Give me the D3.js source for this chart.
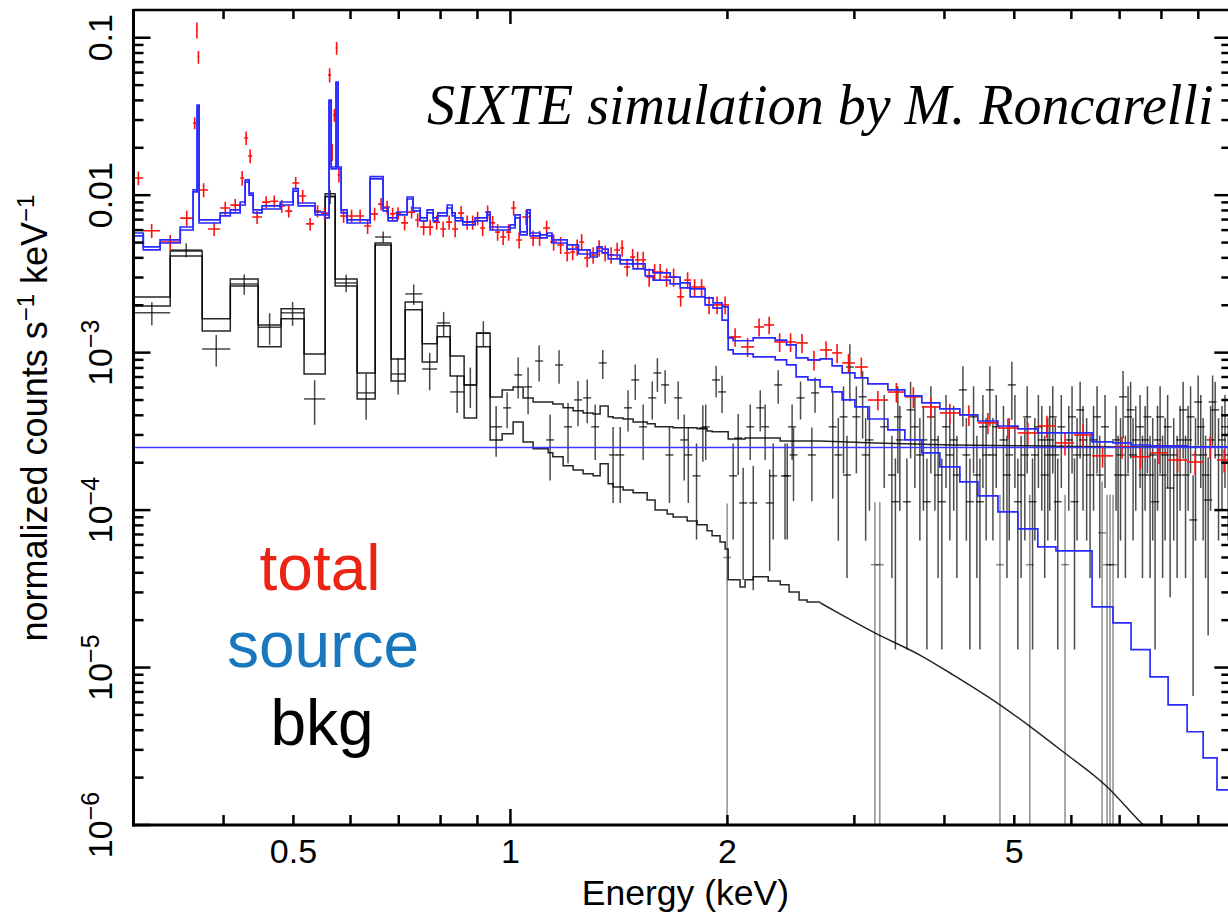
<!DOCTYPE html>
<html><head><meta charset="utf-8">
<script src="https://cdn.jsdelivr.net/npm/d3@7"></script>
<style>body{margin:0;background:#fff;} svg{display:block;}</style>
</head><body><svg id="c" width="1228" height="915"></svg>
<script>
// ---------- DATA ----------
// model binning of the "total" spectrum (keV bin edges)
const modelEdges = [0.300,0.3095,0.3266,0.3483,0.3630,0.3677,0.3700,0.3957,0.4087,0.4218,0.4286,0.4341,0.4397,0.4523,0.4793,0.4995,0.5076,0.5358,0.5534,0.5604,0.5641,0.5731,0.5768,0.5824,0.5935,0.6388,0.6659,0.6767,0.6965,0.7191,0.7329,0.7496,0.7664,0.7813,0.7931,0.8172,0.8301,0.8381,0.8589,0.8934,0.9283,0.9372,0.999,1.015,1.0315,1.0548,1.0649,1.0992,1.1244,1.1418,1.1985,1.2427,1.2900,1.3192,1.3404,1.3664,1.4196,1.4797,1.5378,1.5776,1.6655,1.7195,1.7753,1.8622,1.9103,1.9660,2.0047,2.0370,2.1715,2.3297,2.4156,2.4904,2.5860,2.6887,2.794,2.885,3.005,3.132,3.339,3.525,3.722,3.942,4.202,4.451,4.745,5.057,5.390,5.712,6.052,6.410,6.854,7.260,7.715,8.172,8.684,9.140,9.554,10.0];
// total model (source + particle background)
const totalModel = [5.75e-3,4.69e-3,5.20e-3,6.28e-3,1.08e-2,3.74e-2,6.96e-3,7.71e-3,8.06e-3,9.05e-3,1.25e-2,1.03e-2,8.06e-3,8.54e-3,9.05e-3,1.10e-2,8.92e-3,7.82e-3,7.49e-3,4.02e-2,1.51e-2,5.23e-2,1.51e-2,8.06e-3,6.96e-3,1.31e-2,8.29e-3,7.17e-3,7.82e-3,9.74e-3,8.29e-3,7.17e-3,8.06e-3,7.17e-3,7.71e-3,8.66e-3,7.71e-3,7.17e-3,6.76e-3,7.17e-3,7.82e-3,6.28e-3,6.47e-3,7.49e-3,5.84e-3,8.06e-3,5.75e-3,5.59e-3,5.75e-3,5.20e-3,4.83e-3,4.49e-3,4.30e-3,4.69e-3,4.55e-3,4.17e-3,3.88e-3,3.66e-3,3.35e-3,3.21e-3,3.02e-3,2.77e-3,2.54e-3,2.23e-3,2.07e-3,1.95e-3,1.24e-3,1.19e-3,1.24e-3,1.20e-3,1.12e-3,9.25e-4,8.99e-4,9.12e-4,8.23e-4,7.43e-4,6.91e-4,6.33e-4,5.80e-4,5.31e-4,4.79e-4,4.39e-4,4.02e-4,3.68e-4,3.42e-4,3.28e-4,3.09e-4,3.09e-4,3.09e-4,2.71e-4,2.67e-4,2.59e-4,2.56e-4,2.56e-4,2.52e-4,2.52e-4,2.52e-4];
// source model
const sourceModel = [5.51e-3,4.49e-3,4.97e-3,6.01e-3,1.05e-2,3.68e-2,6.66e-3,7.38e-3,7.71e-3,8.66e-3,1.21e-2,1.00e-2,7.71e-3,8.17e-3,8.66e-3,1.06e-2,8.54e-3,7.49e-3,7.17e-3,3.96e-2,1.47e-2,5.16e-2,1.47e-2,7.71e-3,6.66e-3,1.27e-2,7.94e-3,6.86e-3,7.49e-3,9.46e-3,7.94e-3,6.86e-3,7.71e-3,6.86e-3,7.38e-3,8.29e-3,7.38e-3,6.86e-3,6.47e-3,6.86e-3,7.49e-3,6.01e-3,6.19e-3,7.17e-3,5.59e-3,7.71e-3,5.51e-3,5.35e-3,5.51e-3,4.97e-3,4.55e-3,4.23e-3,4.05e-3,4.42e-3,4.30e-3,3.94e-3,3.66e-3,3.40e-3,3.07e-3,2.89e-3,2.73e-3,2.58e-3,2.26e-3,2.01e-3,1.92e-3,1.61e-3,1.04e-3,9.81e-4,9.39e-4,8.99e-4,8.35e-4,7.01e-4,6.71e-4,6.06e-4,5.63e-4,5.01e-4,4.52e-4,3.79e-4,3.23e-4,2.79e-4,2.31e-4,1.88e-4,1.51e-4,1.23e-4,9.74e-5,7.60e-5,5.84e-5,5.51e-5,5.51e-5,2.43e-5,1.92e-5,1.30e-5,8.73e-6,5.80e-6,3.91e-6,2.67e-6,1.67e-6];
// flat particle background component
const particleLevel = [2.5e-4];

// total spectrum data (bin edges, counts, 1-sigma)
const totalEdges = [0.300,0.3095,0.3266,0.3483,0.3630,0.3665,0.3683,0.3700,0.3807,0.3957,0.4087,0.4218,0.4272,0.4327,0.4383,0.4523,0.4643,0.4763,0.4871,0.4981,0.5093,0.5208,0.5341,0.5461,0.5585,0.5641,0.5676,0.5722,0.5758,0.5805,0.5935,0.6108,0.6267,0.6408,0.6553,0.6680,0.6809,0.6919,0.7053,0.7212,0.7376,0.7496,0.7664,0.7813,0.7991,0.8144,0.8301,0.8462,0.8625,0.8794,0.8934,0.9078,0.9224,0.9372,0.9523,0.9676,0.9864,1.0022,1.0184,1.0381,1.0649,1.0855,1.1100,1.1352,1.1610,1.1872,1.2102,1.2297,1.2455,1.2655,1.2900,1.3150,1.3404,1.3664,1.3928,1.4196,1.4380,1.4658,1.4894,1.5134,1.5427,1.5725,1.5978,1.6287,1.6655,1.7031,1.7416,1.7809,1.8211,1.8622,1.9103,1.9596,2.0111,2.0891,2.1777,2.2486,2.3222,2.4044,2.4904,2.5860,2.6887,2.794,2.885,3.005,3.132,3.339,3.525,3.722,3.942,4.202,4.451,4.745,5.057,5.390,5.712,6.052,6.410,6.854,7.260,7.715,8.172,8.684,9.140,9.554,10.0];
const totalData = [1.286e-2,5.95e-3,5.04e-3,7.15e-3,2.87e-2,0.112,7.54e-2,1.079e-2,6.10e-3,8.29e-3,8.65e-3,1.286e-2,2.31e-2,1.773e-2,7.27e-3,9.03e-3,9.16e-3,8.53e-3,7.92e-3,1.195e-2,9.88e-3,6.57e-3,7.92e-3,7.69e-3,5.80e-2,1.88e-2,3.23e-2,8.6e-2,1.343e-2,7.38e-3,7.38e-3,7.38e-3,6.37e-3,7.61e-3,8.78e-3,8.41e-3,7.61e-3,7.69e-3,6.67e-3,7.80e-3,6.95e-3,6.27e-3,6.27e-3,6.74e-3,6.10e-3,6.74e-3,6.10e-3,7.69e-3,6.74e-3,6.74e-3,7.15e-3,6.19e-3,7.80e-3,6.67e-3,5.83e-3,5.43e-3,5.83e-3,8.29e-3,5.19e-3,7.27e-3,5.35e-3,5.35e-3,6.19e-3,5.04e-3,4.83e-3,4.29e-3,4.36e-3,4.68e-3,5.04e-3,3.99e-3,4.17e-3,4.62e-3,4.29e-3,4.17e-3,4.49e-3,4.62e-3,3.50e-3,4.05e-3,3.88e-3,3.88e-3,3.02e-3,3.25e-3,3.25e-3,3.02e-3,3.02e-3,2.26e-3,2.89e-3,2.61e-3,2.61e-3,2.01e-3,2.01e-3,2.01e-3,1.258e-3,1.087e-3,1.456e-3,1.499e-3,1.169e-3,1.169e-3,1.152e-3,8.99e-4,1.04e-3,9.96e-4,8.60e-4,8.10e-4,5.00e-4,5.62e-4,5.24e-4,4.52e-4,4.14e-4,4.02e-4,3.58e-4,3.32e-4,3.09e-4,3.42e-4,2.67e-4,3.00e-4,2.21e-4,2.52e-4,2.18e-4,2.31e-4,2.08e-4,2.02e-4,2.52e-4,2.08e-4];
const totalErr = [1.3e-3,6e-4,5.5e-4,8e-4,2.5e-3,1.3e-2,7e-3,1.1e-3,6e-4,8e-4,8e-4,1.4e-3,2.3e-3,1.8e-3,7e-4,8e-4,8e-4,8e-4,7e-4,1.1e-3,9e-4,6e-4,7e-4,7e-4,6e-3,2.3e-3,3e-3,8e-3,1.4e-3,7e-4,7e-4,7e-4,7e-4,7e-4,8e-4,8e-4,7e-4,7e-4,7e-4,7e-4,7e-4,7e-4,7e-4,7e-4,7e-4,7e-4,7e-4,8e-4,7e-4,7e-4,7e-4,7e-4,8e-4,7e-4,7e-4,6e-4,7e-4,9e-4,6e-4,8e-4,6e-4,6e-4,7e-4,6e-4,6e-4,5e-4,5e-4,5.5e-4,6e-4,5e-4,5e-4,5.5e-4,5e-4,5e-4,5e-4,5.5e-4,4.5e-4,5e-4,5e-4,5e-4,4e-4,4e-4,4e-4,4e-4,4e-4,3e-4,3.5e-4,3.2e-4,3.2e-4,2.6e-4,2.6e-4,2.6e-4,1.7e-4,1.5e-4,1.9e-4,1.9e-4,1.6e-4,1.6e-4,1.6e-4,1.3e-4,1.4e-4,1.4e-4,1.2e-4,1.2e-4,7e-5,8e-5,8e-5,7e-5,6e-5,6e-5,5.5e-5,5e-5,5e-5,5.5e-5,4.5e-5,5e-5,3.5e-5,4e-5,3.5e-5,3.5e-5,3.5e-5,3.5e-5,4e-5,3.5e-5];

// background spectrum: model binning and two model curves
const bkgEdges = [0.300,0.3373,0.3736,0.4087,0.4467,0.4807,0.5173,0.5534,0.5713,0.6128,0.6492,0.6831,0.7145,0.7545,0.7913,0.8249,0.8625,0.8975,0.9372,0.9739,1.0086,1.0414,1.0752,1.1280,1.1451,1.1833,1.2217,1.2614,1.3024,1.3318,1.3664,1.3884,1.4334,1.4797,1.5476,1.5875,1.6499,1.6815,1.7584,1.8153,1.8741,1.9043,1.9534,1.9856,2.0047,2.0825,2.1160,2.1715,2.2781,2.3672,2.4354,2.5143,2.5794,2.6887];
const bkgModelHigh = [2.26e-3,4.42e-3,1.64e-3,2.94e-3,1.50e-3,1.90e-3,9.81e-4,1.02e-2,2.94e-3,7.43e-4,4.97e-3,9.12e-4,2.10e-3,1.14e-3,1.48e-3,9.53e-4,6.24e-4,1.33e-3,5.23e-4,5.80e-4,6.06e-4,5.16e-4,4.86e-4,4.86e-4,4.72e-4,4.46e-4,4.27e-4,4.14e-4,4.08e-4,4.59e-4,3.91e-4,3.85e-4,3.79e-4,3.63e-4,3.53e-4,3.38e-4,3.38e-4,3.33e-4,3.33e-4,3.28e-4,3.18e-4,3.14e-4,3.14e-4,3.14e-4,2.83e-4,2.83e-4,2.87e-4,2.87e-4,2.87e-4,2.75e-4,2.75e-4,2.75e-4,2.75e-4];
const bkgModelLow = [1.98e-3,4.11e-3,1.37e-3,2.65e-3,1.09e-3,1.64e-3,7.32e-4,9.81e-3,2.65e-3,5.08e-4,4.83e-3,6.61e-4,1.87e-3,8.73e-4,1.26e-3,7.11e-4,3.85e-4,1.09e-3,2.79e-4,3.05e-4,3.63e-4,2.71e-4,2.45e-4,2.31e-4,2.18e-4,1.91e-4,1.80e-4,1.70e-4,1.65e-4,1.97e-4,1.47e-4,1.40e-4,1.34e-4,1.29e-4,1.16e-4,1.00e-4,9.46e-5,9.05e-5,8.54e-5,8.06e-5,7.38e-5,6.86e-5,6.28e-5,5.67e-5,3.61e-5,3.25e-5,3.61e-5,3.77e-5,3.55e-5,3.35e-5,3.02e-5,2.69e-5,2.61e-5];
// finely binned continuation of the two background model curves
const bkgCurveLowE = [2.6887,2.931,3.203,3.698,4.112,4.776,5.221,5.843,6.724,7.472,8.2];
const bkgCurveLow = [2.58e-5,2.07e-5,1.66e-5,1.20e-5,8.99e-6,5.80e-6,4.33e-6,2.92e-6,1.75e-6,1.05e-6,7.0e-7];
const bkgCurveHighE = [2.6887,3.203,4.112,5.221,7.472,10.0];
const bkgCurveHigh = [2.75e-4,2.67e-4,2.59e-4,2.56e-4,2.52e-4,2.52e-4];
// background data in the wide low-energy bins (first 19 bins of bkgEdges)
const bkgBinData = [1.79e-3,4.49e-3,1.055e-3,2.73e-3,1.45e-3,1.79e-3,5.08e-4,9.8e-3,2.77e-3,5.55e-4,5.43e-3,7.32e-4,2.36e-3,7.87e-4,1.544e-3,5.63e-4,6.24e-4,1.334e-3,3.38e-4];
const bkgBinErr = [3.0e-4,4.6e-4,2.4e-4,4.0e-4,3.3e-4,3.1e-4,1.6e-4,1.0e-3,3.5e-4,1.8e-4,4.5e-4,1.9e-4,3.5e-4,2.1e-4,2.7e-4,1.5e-4,1.8e-4,2.5e-4,1.2e-4];
// background data in fine bins
const bkgFineE = [0.9895,1.025,1.058,1.096,1.135,1.168,1.202,1.241,1.278,1.311,1.343,1.388,1.420,1.456,1.490,1.528,1.573,1.599,1.639,1.662,1.709,1.742,1.765,1.812,1.849,1.866,1.929,1.966,1.998,2.037,2.070,2.103,2.151,2.172,2.221,2.256,2.289,2.315,2.352,2.404,2.421,2.459,2.470,2.526,2.619,2.646,
 2.800,2.898,2.957,3.019,3.148,3.203,3.254,3.382,3.447,3.469,3.548,3.640,3.698,3.782,3.880,3.967,4.070,4.162,4.243,4.339,4.437,4.523,4.625,4.670,4.776,4.884,4.961,5.057,5.171,5.254,5.339,5.459,5.565,5.654,5.745,5.880,6.013,6.110,6.228,6.369,6.513,6.618,6.724,6.789,6.854,6.965,7.077,7.191,7.307,7.472,7.593,7.715,7.839,7.966,8.094,8.225,8.411,8.574,8.712,8.852,8.995,9.140,9.287,9.497,9.707,
 2.85,2.93,3.08,3.11,3.30,3.42,3.59,3.74,3.83,3.92,4.02,4.12,4.29,4.39,4.48,4.57,4.72,4.83,4.92,5.01,5.11,5.21,5.30,5.40,5.51,5.60,5.70,5.81,5.95,6.06,6.17,6.30,6.44,6.57,6.68,6.92,7.02,7.13,7.25,7.37,7.53,7.65,7.78,7.90,8.03,8.16,8.32,8.49,8.64,8.78,8.92,9.07,9.21,9.36,9.42,9.60,9.80,9.90];
const bkgFineData = [4.46e-4,7.22e-4,6.06e-4,8.85e-4,2.79e-4,8.35e-4,3.38e-4,5.01e-4,5.16e-4,3.38e-4,8.60e-4,2.24e-4,2.24e-4,4.46e-4,6.71e-4,3.38e-4,5.16e-4,7.43e-4,6.24e-4,2.24e-4,5.16e-4,2.79e-4,2.24e-4,1.65e-4,3.33e-4,3.38e-4,6.71e-4,5.63e-4,5.0e-5,1.65e-4,2.87e-4,1.11e-4,3.38e-4,1.11e-4,4.46e-4,3.38e-4,1.11e-4,1.65e-4,6.24e-4,1.65e-4,1.65e-4,3.38e-4,2.24e-4,5.16e-4,2.24e-4,5.55e-4,
 3.38e-4,3.91e-4,8.10e-4,3.91e-4,2.79e-4,4.5e-5,4.5e-5,1.67e-4,3.91e-4,2.79e-4,1.13e-4,3.38e-4,2.24e-4,1.13e-4,2.79e-4,1.13e-4,2.24e-4,1.67e-4,5.80e-4,1.13e-4,1.67e-4,3.38e-4,5.80e-4,2.24e-4,4.5e-5,1.67e-4,6.24e-4,1.13e-4,2.24e-4,4.5e-5,2.24e-4,2.79e-4,2.24e-4,3.91e-4,1.13e-4,4.5e-5,3.91e-4,2.24e-4,2.79e-4,1.67e-4,3.91e-4,7.17e-5,4.5e-5,4.5e-5,4.5e-5,1.67e-4,5.24e-4,3.91e-4,2.24e-4,3.38e-4,2.79e-4,1.67e-4,1.13e-4,3.91e-4,2.24e-4,1.38e-4,1.67e-4,4.33e-4,2.79e-4,8.66e-5,4.86e-4,2.24e-4,1.16e-4,4.33e-4,2.79e-4,
 2.24e-4,1.67e-4,5.24e-4,2.24e-4,3.38e-4,1.13e-4,4.33e-4,2.79e-4,3.91e-4,1.67e-4,3.38e-4,2.79e-4,2.24e-4,3.91e-4,1.13e-4,2.24e-4,3.38e-4,2.79e-4,2.24e-4,3.38e-4,1.67e-4,3.91e-4,1.13e-4,3.38e-4,1.67e-4,2.79e-4,2.24e-4,3.38e-4,2.79e-4,1.13e-4,4.33e-4,2.24e-4,2.79e-4,1.67e-4,3.38e-4,2.79e-4,2.24e-4,1.67e-4,4.33e-4,2.79e-4,1.67e-4,3.91e-4,2.24e-4,2.79e-4,1.67e-4,3.38e-4,2.24e-4,2.79e-4,1.67e-4,3.91e-4,2.24e-4,3.38e-4,1.67e-4,2.79e-4,4.86e-4,2.24e-4,3.38e-4,2.24e-4];
const bkgFineErr = [1.15e-4,2.1e-4,2.0e-4,2.3e-4,1.25e-4,2.0e-4,1.4e-4,1.6e-4,1.6e-4,1.3e-4,1.8e-4,1.13e-4,1.13e-4,1.3e-4,1.7e-4,1.3e-4,1.4e-4,1.8e-4,1.5e-4,1.13e-4,1.4e-4,1.25e-4,1.13e-4,1.0e-4,1.3e-4,1.3e-4,1.5e-4,1.5e-4,6.0e-5,1.0e-4,1.2e-4,7.5e-5,1.3e-4,8.0e-5,1.3e-4,1.3e-4,7.0e-5,1.0e-4,1.5e-4,1.0e-4,1.0e-4,1.3e-4,1.1e-4,1.4e-4,1.1e-4,1.4e-4,
 2.2e-4,2.2e-4,3.2e-4,2.2e-4,1.8e-4,6.7e-5,6.7e-5,1.3e-4,2.2e-4,1.8e-4,1.0e-4,2.0e-4,1.6e-4,1.0e-4,1.8e-4,1.0e-4,1.6e-4,1.3e-4,2.4e-4,1.0e-4,1.3e-4,2.0e-4,2.4e-4,1.6e-4,8e-5,1.3e-4,2.5e-4,1.0e-4,1.6e-4,8e-5,1.6e-4,1.8e-4,1.6e-4,2.2e-4,1.0e-4,8e-5,2.2e-4,1.6e-4,1.8e-4,1.3e-4,2.2e-4,8e-5,8e-5,8e-5,8e-5,1.3e-4,2.4e-4,2.2e-4,1.6e-4,2.0e-4,1.8e-4,1.3e-4,1.0e-4,2.2e-4,1.6e-4,1.1e-4,1.3e-4,2.2e-4,1.8e-4,8e-5,2.3e-4,1.6e-4,1.0e-4,2.2e-4,1.8e-4,
 1.6e-4,1.3e-4,2.4e-4,1.6e-4,2.0e-4,1.0e-4,2.2e-4,1.8e-4,2.2e-4,1.3e-4,2.0e-4,1.8e-4,1.6e-4,2.2e-4,1.0e-4,1.6e-4,2.0e-4,1.8e-4,1.6e-4,2.0e-4,1.3e-4,2.2e-4,1.0e-4,2.0e-4,1.3e-4,1.8e-4,1.6e-4,2.0e-4,1.8e-4,1.0e-4,2.2e-4,1.6e-4,1.8e-4,1.3e-4,2.0e-4,1.8e-4,1.6e-4,1.3e-4,2.2e-4,1.8e-4,1.3e-4,2.2e-4,1.6e-4,1.8e-4,1.3e-4,2.0e-4,1.6e-4,1.8e-4,1.3e-4,2.2e-4,1.6e-4,2.0e-4,1.3e-4,1.8e-4,2.3e-4,1.6e-4,2.0e-4,1.6e-4];

const xTickLabels = [0.5, 1, 2, 5];
const yTickDecades = [1e-6, 1e-5, 1e-4, 1e-3, 1e-2, 1e-1];
const legendLabels = ["total", "source", "bkg"];
const annotation = "SIXTE simulation by M. Roncarelli";

// ---------- DRAW ----------
const svg = d3.select('#c');
const W = 1228, H = 915;
const L = 133.5, R = 1231.3, T = 10, B = 825;
const x = d3.scaleLog().domain([0.3, 10]).range([L, R]);
const y = d3.scaleLog().domain([1e-6, 0.15]).range([B, T]);

svg.append('rect').attr('width', W).attr('height', H).attr('fill', '#fff');
svg.append('defs').append('clipPath').attr('id', 'clip')
  .append('rect').attr('x', L).attr('y', T).attr('width', R - L).attr('height', B - T);
const plot = svg.append('g').attr('clip-path', 'url(#clip)');

const yc = v => v <= 0 ? B + 5 : Math.min(y(v), B + 5);
function stepPts(edges, vals) {
  const p = vals.map((v, i) => [edges[i], v]);
  p.push([edges[edges.length - 1], vals[vals.length - 1]]);
  return p;
}
const stepLine = d3.line().x(d => x(d[0])).y(d => y(d[1])).curve(d3.curveStepAfter);
const smoothLine = d3.line().x(d => x(d[0])).y(d => y(d[1])).curve(d3.curveMonotoneX);

// background data: wide bins
const gBkg = plot.append('g').attr('stroke', '#000').attr('stroke-opacity', 0.72).attr('stroke-width', 1.5).attr('fill', 'none');
bkgBinData.forEach((v, i) => {
  const e = bkgBinErr[i];
  const xm = x(Math.sqrt(bkgEdges[i] * bkgEdges[i + 1]));
  gBkg.append('line').attr('x1', x(bkgEdges[i])).attr('x2', x(bkgEdges[i + 1])).attr('y1', y(v)).attr('y2', y(v));
  gBkg.append('line').attr('x1', xm).attr('x2', xm).attr('y1', y(v + e)).attr('y2', yc(v - e));
});
// background data: fine bins
bkgFineData.forEach((v, i) => {
  const e = bkgFineErr[i];
  const xm = x(bkgFineE[i]);
  const faint = (v - e) <= 0;
  const g = gBkg.append('g').attr('stroke-opacity', faint ? 0.45 : 0.7);
  g.append('line').attr('x1', xm - 4).attr('x2', xm + 4).attr('y1', y(v)).attr('y2', y(v));
  g.append('line').attr('x1', xm).attr('x2', xm).attr('y1', y(v + e)).attr('y2', yc(v - e));
});

// background models
const gBm = plot.append('g').attr('stroke', '#000').attr('stroke-width', 1.5).attr('fill', 'none').attr('stroke-opacity', 0.85);
gBm.append('path').attr('d', stepLine(stepPts(bkgEdges, bkgModelHigh)));
gBm.append('path').attr('d', stepLine(stepPts(bkgEdges, bkgModelLow)));
gBm.append('path').attr('d', smoothLine(bkgCurveLowE.map((e, i) => [e, bkgCurveLow[i]])));
gBm.append('path').attr('d', smoothLine(bkgCurveHighE.map((e, i) => [e, bkgCurveHigh[i]])));

// total data (red)
const gTot = plot.append('g').attr('stroke', '#ff1010').attr('stroke-width', 1.6).attr('fill', 'none');
totalData.forEach((v, i) => {
  const e = totalErr[i];
  const xm = x(Math.sqrt(totalEdges[i] * totalEdges[i + 1]));
  gTot.append('line').attr('x1', x(totalEdges[i])).attr('x2', x(totalEdges[i + 1])).attr('y1', y(v)).attr('y2', y(v));
  gTot.append('line').attr('x1', xm).attr('x2', xm).attr('y1', y(v + e)).attr('y2', yc(v - e));
});

// models (blue)
const gM = plot.append('g').attr('stroke', '#2a2aff').attr('stroke-width', 1.7).attr('fill', 'none');
gM.append('path').attr('d', stepLine(stepPts(modelEdges, sourceModel)));
gM.append('path').attr('d', stepLine(stepPts(modelEdges, totalModel)));
particleLevel.forEach(v => {
  plot.append('line').attr('x1', L).attr('x2', R).attr('y1', y(v)).attr('y2', y(v))
    .attr('stroke', '#3a3aff').attr('stroke-width', 1.4);
});

// ---------- AXES ----------
const ax = svg.append('g').attr('stroke', '#000').attr('fill', 'none');
ax.append('line').attr('x1', L).attr('x2', L).attr('y1', T - 1).attr('y2', B + 1.5).attr('stroke-width', 3);
ax.append('line').attr('x1', L - 1.5).attr('x2', R).attr('y1', B).attr('y2', B).attr('stroke-width', 3);
ax.append('line').attr('x1', L).attr('x2', R).attr('y1', T).attr('y2', T).attr('stroke-width', 2.5);
ax.append('line').attr('x1', R).attr('x2', R).attr('y1', T).attr('y2', B).attr('stroke-width', 3);

const isDecade = v => Math.abs(Math.log10(v) - Math.round(Math.log10(v))) < 1e-6;
x.ticks().filter(t => t > 0.3 + 1e-9 && t < 10 - 1e-9).forEach(t => {
  const len = isDecade(t) ? 16 : 10;
  ax.append('line').attr('x1', x(t)).attr('x2', x(t)).attr('y1', B).attr('y2', B - len).attr('stroke-width', 2.5);
  ax.append('line').attr('x1', x(t)).attr('x2', x(t)).attr('y1', T).attr('y2', T + (isDecade(t) ? 14 : 9)).attr('stroke-width', 2.5);
});
y.ticks().filter(t => t > 1e-6 * 1.0001 && t < 0.15).forEach(t => {
  const len = isDecade(t) ? 17 : 10;
  ax.append('line').attr('x1', L).attr('x2', L + len).attr('y1', y(t)).attr('y2', y(t)).attr('stroke-width', 2.5);
  ax.append('line').attr('x1', R).attr('x2', R - len).attr('y1', y(t)).attr('y2', y(t)).attr('stroke-width', 2.5);
});
ax.append('line').attr('x1', L).attr('x2', L + 17).attr('y1', B).attr('y2', B).attr('stroke-width', 2.5);

const font = "'Liberation Sans', Arial, Helvetica, sans-serif";
const tx = svg.append('g').attr('font-family', font).attr('fill', '#000');
xTickLabels.forEach(t => {
  tx.append('text').attr('x', x(t)).attr('y', 863).attr('text-anchor', 'middle').attr('font-size', 34).text(t);
});
tx.append('text').attr('x', (L + R) / 2 + 3).attr('y', 905).attr('text-anchor', 'middle').attr('font-size', 35.5).text('Energy (keV)');

yTickDecades.forEach(t => {
  const yy = y(t);
  const txt = tx.append('text').attr('x', 112).attr('y', yy).attr('text-anchor', 'middle').attr('font-size', 34)
    .attr('transform', `rotate(-90,112,${yy})`);
  const ex = Math.round(Math.log10(t));
  if (ex >= -2) {
    txt.text(ex === -1 ? '0.1' : '0.01');
  } else {
    txt.append('tspan').text('10');
    txt.append('tspan').attr('dy', -13).attr('font-size', 25).text('\u2212' + (-ex));
  }
});

const yt = tx.append('text').attr('x', 47).attr('y', 418).attr('text-anchor', 'middle').attr('font-size', 36)
  .attr('transform', 'rotate(-90,47,418)');
yt.append('tspan').text('normalized counts s');
yt.append('tspan').attr('dy', -13).attr('font-size', 24).text('\u22121');
yt.append('tspan').attr('dy', 13).text(' keV');
yt.append('tspan').attr('dy', -13).attr('font-size', 24).text('\u22121');

// legend words
const legendColors = ['#ec2416', '#1877bd', '#000000'];
const legendY = [590, 667, 745];
const legendX = [320, 323, 322];
legendLabels.forEach((s, i) => {
  svg.append('text').attr('x', legendX[i]).attr('y', legendY[i]).attr('text-anchor', 'middle')
    .attr('font-family', font).attr('font-size', 64).attr('fill', legendColors[i]).text(s);
});

// annotation
svg.append('text').attr('x', 427).attr('y', 124)
  .attr('font-family', "'Liberation Serif', 'Times New Roman', serif").attr('font-style', 'italic')
  .attr('font-size', 56).attr('fill', '#000').text(annotation);
</script>
</body></html>
